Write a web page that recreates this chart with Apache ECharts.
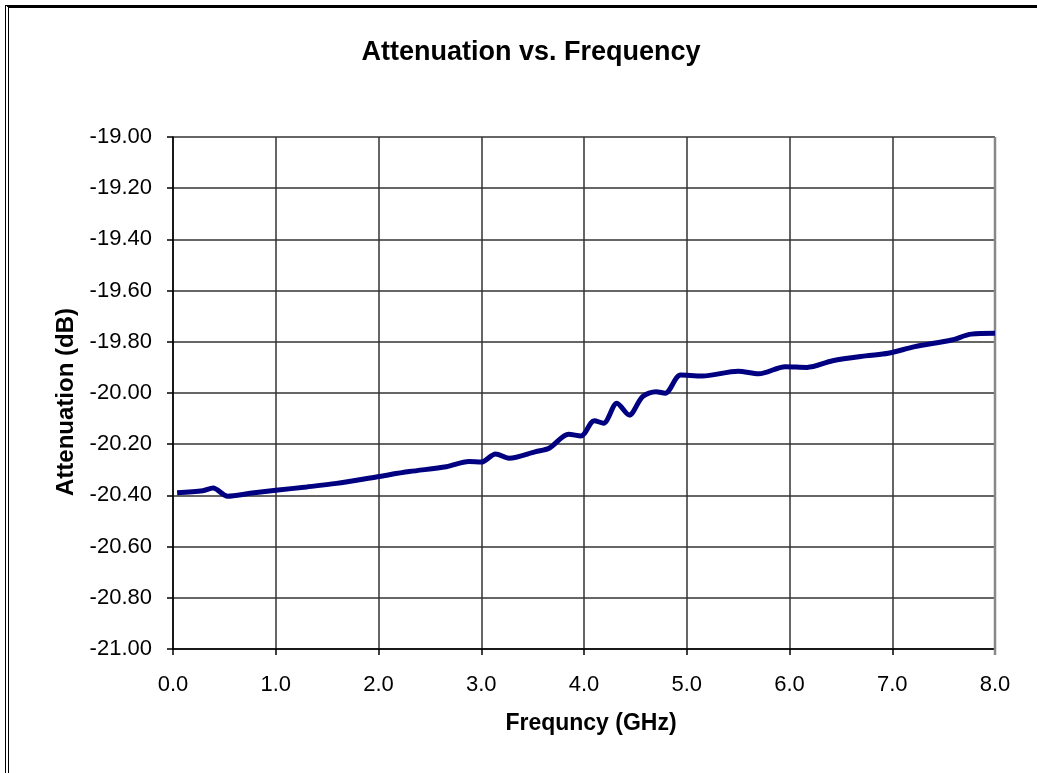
<!DOCTYPE html>
<html>
<head>
<meta charset="utf-8">
<script src="https://cdn.jsdelivr.net/npm/echarts@6/dist/echarts.min.js"></script>
<style>
  html, body { margin: 0; padding: 0; background: #fff; }
  #chart { position: absolute; left: 0; top: 0; width: 1037px; height: 773px; }
  #frame { position: absolute; left: 5px; top: 5px; width: 1100px; height: 900px;
           border-top: 3px solid #000; border-left: 4px double #000; pointer-events: none; }
</style>
</head>
<body>
<div id="chart"></div>
<div id="frame"></div>
<script>
const chartTitle = 'Attenuation vs. Frequency';
const xAxisTitle = 'Frequncy (GHz)';
const yAxisTitle = 'Attenuation (dB)';

const frequencyGHz = [0.04, 0.29, 0.39, 0.53, 0.75, 1.0, 1.3, 1.59, 1.99, 2.30, 2.66, 2.88, 3.0, 3.14, 3.27, 3.53, 3.66, 3.85, 3.97, 4.10, 4.19, 4.32, 4.44, 4.57, 4.70, 4.79, 4.94, 5.15, 5.50, 5.70, 5.96, 6.17, 6.42, 6.74, 6.96, 7.22, 7.58, 7.77, 8.0];
const attenuationDb = [-20.39, -20.382, -20.371, -20.403, -20.392, -20.38, -20.367, -20.353, -20.327, -20.307, -20.288, -20.268, -20.27, -20.238, -20.255, -20.229, -20.216, -20.161, -20.168, -20.108, -20.118, -20.04, -20.086, -20.014, -19.995, -20.001, -19.93, -19.934, -19.915, -19.925, -19.897, -19.90, -19.874, -19.855, -19.845, -19.819, -19.793, -19.77, -19.767];

const seriesData = frequencyGHz.map((f, i) => [f, attenuationDb[i]]);

const chart = echarts.init(document.getElementById('chart'));
const font = '"Liberation Sans", Arial, sans-serif';
chart.setOption({
  backgroundColor: '#fff',
  animation: false,
  textStyle: { fontFamily: font, color: '#000' },
  grid: { left: 173, right: 42, top: 137, bottom: 124, containLabel: false, outerBoundsMode: 'none',
          show: false },
  xAxis: {
    type: 'value', min: 0, max: 8, interval: 1,
    name: xAxisTitle, nameLocation: 'middle', nameGap: 63,
    nameTextStyle: { fontFamily: font, fontSize: 23, fontWeight: 'bold', color: '#000', padding: [0, 0, 0, 14] },
    axisLine: { show: true, onZero: false, lineStyle: { color: '#000', width: 1.5 } },
    axisTick: { show: true, length: 6, lineStyle: { color: '#000', width: 1.5 } },
    axisLabel: { fontFamily: font, fontSize: 22, color: '#000', margin: 25, formatter: v => v.toFixed(1) },
    splitLine: { show: true, lineStyle: { color: '#333', width: 1.5 } }
  },
  yAxis: {
    type: 'value', min: -21, max: -19, interval: 0.2,
    name: yAxisTitle, nameLocation: 'middle', nameGap: 93, nameRotate: 90,
    nameTextStyle: { fontFamily: font, fontSize: 24, fontWeight: 'bold', color: '#000', padding: [0, 18, 0, 0] },
    axisLine: { show: true, onZero: false, lineStyle: { color: '#000', width: 1.5 } },
    axisTick: { show: true, length: 6, lineStyle: { color: '#000', width: 1.5 } },
    axisLabel: { fontFamily: font, fontSize: 22, color: '#000', margin: 21, formatter: v => v.toFixed(2) },
    splitLine: { show: true, lineStyle: { color: '#333', width: 1.5 } }
  },
  series: [{
    type: 'line',
    data: seriesData,
    smooth: 0.3,
    showSymbol: false,
    lineStyle: { color: '#000080', width: 5 },
    z: 5
  }]
});
const p0 = chart.convertToPixel({ gridIndex: 0 }, [8, -19]);
const p1 = chart.convertToPixel({ gridIndex: 0 }, [8, -21]);
chart.setOption({
  graphic: [{
    type: 'text', x: 531, y: 53,
    style: { text: chartTitle, font: 'bold 27px ' + font, fill: '#000', align: 'center', verticalAlign: 'middle' }
  }, {
    type: 'line', shape: { x1: p0[0], y1: p0[1], x2: p1[0], y2: p1[1] + 6 },
    style: { stroke: '#888', lineWidth: 2.5 }, z: 1
  }]
});
</script>
</body>
</html>
